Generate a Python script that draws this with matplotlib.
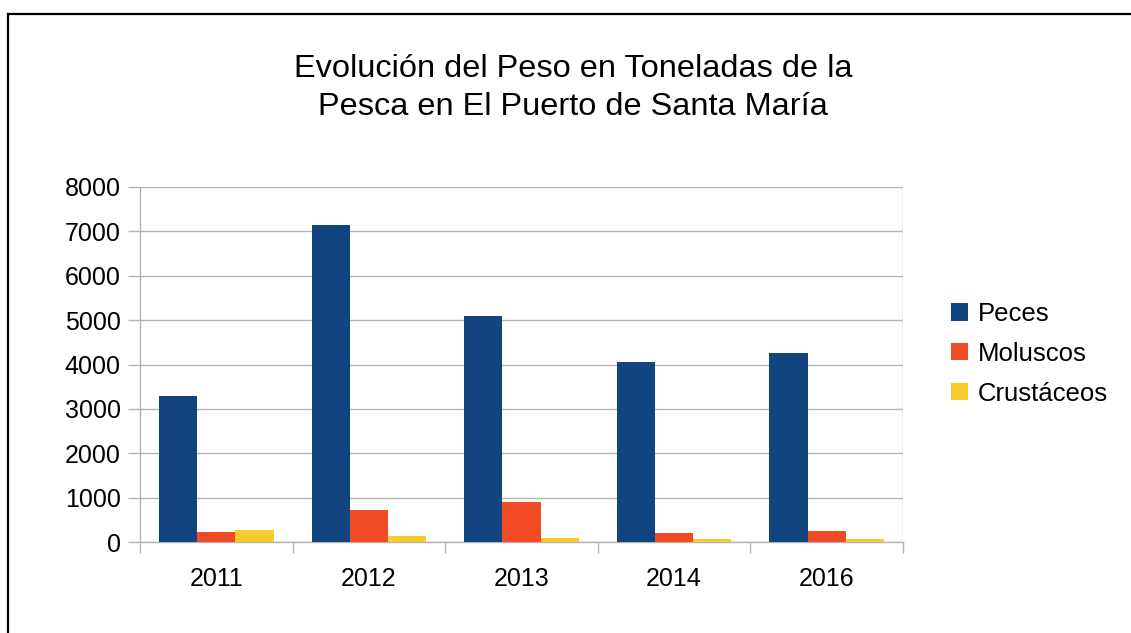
import matplotlib
matplotlib.use("Agg")
import matplotlib.pyplot as plt
import numpy as np
from matplotlib.lines import Line2D
from matplotlib.patches import Patch

years = ["2011", "2012", "2013", "2014", "2016"]
series_names = ["Peces", "Moluscos", "Crustáceos"]
peces = [3280, 7150, 5095, 4055, 4255]
moluscos = [236, 720, 910, 198, 258]
crustaceos = [266, 130, 84, 61, 61]
colors = ["#12457f", "#f04b24", "#f5cc2b"]
yticks = [0, 1000, 2000, 3000, 4000, 5000, 6000, 7000, 8000]
title_lines = ["Evolución del Peso en Toneladas de la", "Pesca en El Puerto de Santa María"]

plt.rcParams['font.family'] = ['Liberation Sans', 'DejaVu Sans']

W, H = 1131, 633
fig = plt.figure(figsize=(W / 100, H / 100), dpi=100)
fig.patch.set_facecolor("white")

ax = fig.add_axes([140 / W, 1 - 542 / H, (903 - 140) / W, (542 - 187) / H])

x = np.arange(len(years))
bw = 0.25
for i, (vals, name) in enumerate(zip([peces, moluscos, crustaceos], series_names)):
    ax.bar(x + (i - 1) * bw, vals, width=bw, color=colors[i], label=name, zorder=3,
           linewidth=0)

ax.set_xlim(-0.5, len(years) - 0.5)
ax.set_ylim(0, 8000)
ax.set_yticks(yticks)
ax.set_yticklabels([str(v) for v in yticks])
ax.grid(axis='y', color="#b3b3b3", linewidth=1.0, zorder=0)

# category boundaries as major ticks, labels at centers as minor ticks
ax.set_xticks(np.arange(-0.5, len(years), 1.0))
ax.set_xticklabels([])
ax.set_xticks(x, minor=True)
ax.set_xticklabels(years, minor=True)
ax.tick_params(axis='x', which='major', length=8, color="#b3b3b3", width=1.0, direction='out')
ax.tick_params(axis='x', which='minor', length=0, pad=18, labelsize=18)
ax.tick_params(axis='y', length=8.5, color="#b3b3b3", width=1.0, pad=5.5, labelsize=18)

for s in ["top", "right"]:
    ax.spines[s].set_visible(False)
for s in ["left", "bottom"]:
    ax.spines[s].set_color("#b3b3b3")
    ax.spines[s].set_linewidth(1.0)
ax.axvline(len(years) - 0.5, color="#b3b3b3", linewidth=1.0, zorder=1)

handles = [Patch(facecolor=c, edgecolor='none') for c in colors]
fig.legend(handles, series_names, loc='upper left',
           bbox_to_anchor=(951 / W, 1 - 302 / H), frameon=False, fontsize=18.5,
           handlelength=0.65, handleheight=0.65, handletextpad=0.38,
           labelspacing=0.62, borderpad=0, borderaxespad=0)

for k, line in enumerate(title_lines):
    fig.text(573 / W, 1 - (77 + 38 * k) / H, line,
             ha='center', va='baseline', fontsize=23.4, color="black")

# outer frame (top and left edges visible)
fig.add_artist(Line2D([8 / W, 8 / W], [0, 1 - 14 / H], transform=fig.transFigure,
                      color="black", linewidth=1.6))
fig.add_artist(Line2D([8 / W, 1], [1 - 14 / H, 1 - 14 / H], transform=fig.transFigure,
                      color="black", linewidth=1.6))

fig.savefig("out.png", dpi=100, facecolor="white")
